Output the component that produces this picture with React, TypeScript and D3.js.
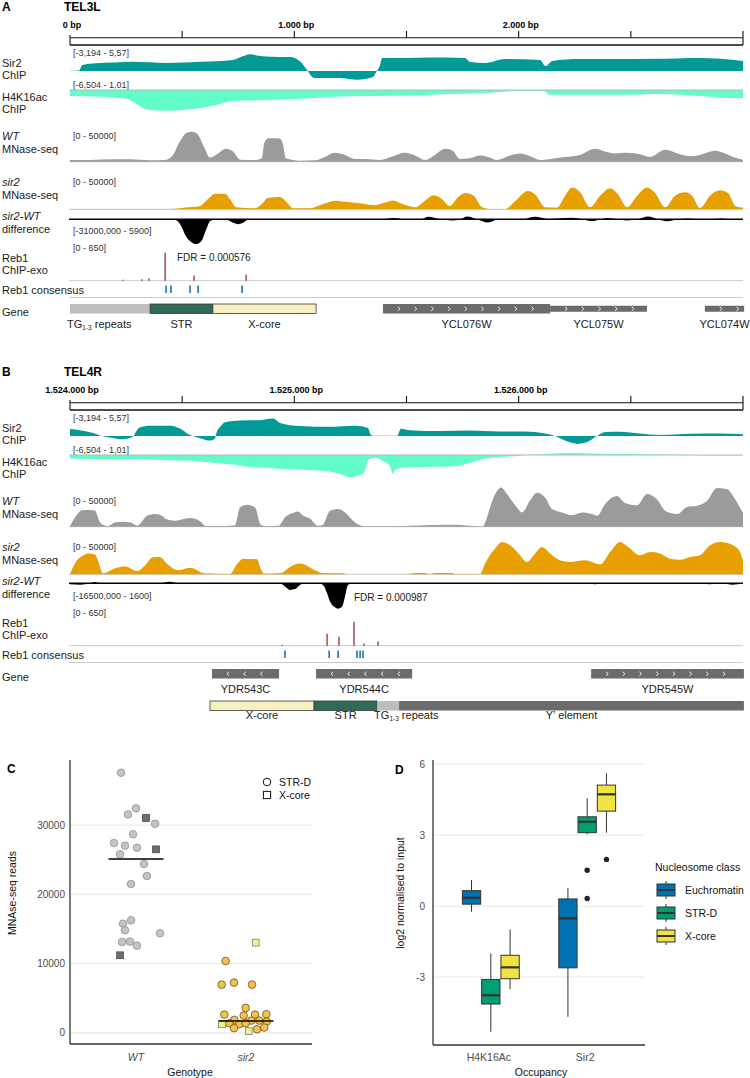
import React from "react";
import * as d3 from "d3";

type P = [number, number];
const FONT = "'Liberation Sans', Arial, Helvetica, sans-serif";

// ---------------- Panel A: TEL3L (bp offset from 0) ----------------
const A_SIR2: P[] = [[0,0.1],[40,0.2],[55,2.0],[100,2.5],[200,2.8],[280,3.0],[430,2.6],[580,3.0],[727,3.6],[770,4.8],[802,5.5],[847,4.9],[900,4.7],[980,4.6],[1025,3.2],[1045,1.5],[1060,0],[1080,-2.0],[1092,-2.3],[1204,-2.3],[1280,-2.9],[1350,-2.0],[1365,-0.3],[1380,1.5],[1392,4.3],[1500,4.3],[1600,4.4],[1760,4.3],[1783,3.0],[1850,2.6],[1940,3.9],[2095,3.6],[2120,1.6],[2150,3.3],[2273,3.9],[2450,3.9],[2600,4.0],[2810,4.3],[2900,4.0],[3000,3.3]];
const A_H4: P[] = [[0,-1.5],[134,-1.7],[250,-2.2],[300,-3.6],[330,-4.6],[357,-5.0],[432,-5.2],[504,-5.0],[580,-4.5],[655,-3.7],[727,-2.7],[878,-2.5],[1025,-2.2],[1172,-1.7],[1324,-1.5],[1560,-1.3],[1694,-1.0],[1872,-0.7],[2006,-0.2],[2118,-0.3],[2135,-1.2],[2274,-1.2],[2452,-1.2],[2630,-1.0],[2808,-1.5],[2942,-2.0],[3000,-2.0]];
const A_WT: P[] = [[0,2500],[89,2500],[200,3500],[267,3500],[357,2000],[423,2500],[455,8000],[490,30000],[517,42000],[544,44000],[570,40000],[597,22000],[624,6000],[655,11000],[696,19000],[727,15000],[758,3000],[830,2500],[855,5000],[866,28000],[885,34500],[935,34000],[950,25000],[962,5000],[1025,1500],[1092,2000],[1137,7000],[1181,13000],[1226,10000],[1270,4000],[1315,4000],[1382,2500],[1440,8000],[1493,13000],[1538,9000],[1583,2500],[1627,10000],[1672,19000],[1703,17000],[1739,4000],[1783,5000],[1828,9000],[1863,7000],[1904,2500],[1962,9000],[2006,12000],[2051,8000],[2095,2500],[2149,4500],[2207,7000],[2274,10000],[2340,19000],[2385,15000],[2430,12000],[2474,13000],[2541,11000],[2586,7000],[2653,17500],[2719,11000],[2764,8000],[2808,10000],[2875,16000],[2920,12000],[2964,6000],[3000,3000]];
const A_SIR2MN: P[] = [[0,300],[401,300],[468,800],[513,2500],[580,5000],[615,15000],[646,23000],[691,23000],[713,15000],[740,3000],[825,1500],[856,8000],[883,17000],[936,18000],[967,10000],[994,1500],[1070,1500],[1123,7000],[1181,12500],[1226,11000],[1293,9000],[1360,6000],[1400,9500],[1440,13000],[1480,8000],[1538,3000],[1580,12000],[1620,20500],[1650,17000],[1694,5000],[1730,18000],[1765,24000],[1800,20000],[1837,3000],[1881,300],[1939,300],[1984,12000],[2042,27000],[2073,22000],[2118,3000],[2171,2500],[2207,20000],[2238,32000],[2274,25000],[2318,3000],[2363,20000],[2408,31000],[2443,22000],[2483,3000],[2528,20000],[2572,32000],[2608,24000],[2653,3000],[2697,20000],[2742,25000],[2773,20000],[2808,2000],[2853,20000],[2898,28000],[2933,24000],[2969,4000],[3000,2500]];
const A_DIFF: P[] = [[0,0],[400,0],[470,-1000],[495,-8000],[515,-20000],[540,-28000],[560,-30500],[585,-27000],[605,-14000],[625,-2000],[650,0],[700,-500],[725,-4000],[750,-6000],[775,-3500],[800,0],[850,-800],[900,0],[1400,0],[1440,1500],[1490,0],[1538,-1000],[1570,0],[1596,3000],[1650,0],[1703,-1500],[1740,0],[1770,3500],[1815,0],[1863,-4000],[1910,0],[1970,-500],[2020,0],[2073,3000],[2130,500],[2238,2000],[2285,0],[2327,-2500],[2365,0],[2398,1500],[2440,0],[2483,-1500],[2530,0],[2577,3500],[2620,0],[2661,-2500],[2710,0],[2755,1000],[2790,0],[2822,-500],[2860,0],[2906,1000],[2950,0],[3000,0]];
const A_REB1: P[] = [[236,20],[321,30],[352,50],[424,607],[553,110],[785,130]];
const A_CONS: number[] = [428,450,535,571,767];
const A_GENES = [
  { name: "YCL076W", s: 1395, e: 2140, strand: 1, thick: true },
  { name: "YCL075W", s: 2140, e: 2572, strand: 1, thick: false },
  { name: "YCL074W", s: 2830, e: 3005, strand: 1, thick: false },
];
const A_FEATS = [
  { name: "TG", s: 0, e: 357 },
  { name: "STR", s: 357, e: 637 },
  { name: "X-core", s: 637, e: 1097 },
];

// ---------------- Panel B: TEL4R (bp offset from 1.524.000) ----------------
const B_SIR2: P[] = [[0,2.3],[45,1.9],[103,1.0],[134,0.2],[178,-0.5],[236,-1.1],[281,-0.2],[295,1.5],[310,2.8],[357,3.4],[446,3.4],[490,2.5],[535,0.3],[580,-0.7],[624,-1.5],[646,-0.8],[655,1.5],[670,3.0],[691,4.5],[758,5.1],[847,5.2],[905,5.7],[936,4.3],[1025,3.3],[1159,3.0],[1270,3.4],[1328,2.6],[1340,0.5],[1350,0.1],[1460,0.1],[1468,1.5],[1475,2.4],[1516,1.9],[1649,1.6],[1783,1.8],[1917,1.5],[2028,1.5],[2118,0.8],[2162,0],[2207,-1.5],[2265,-2.6],[2318,-1.5],[2349,0],[2385,1.3],[2452,1.4],[2541,0.8],[2630,0.3],[2764,0.7],[2898,0.8],[3000,0.6]];
const B_H4: P[] = [[0,-0.9],[100,-1.0],[300,-1.0],[400,-1.2],[500,-1.4],[580,-1.6],[650,-2.0],[727,-2.4],[800,-3.0],[878,-3.2],[950,-3.5],[1025,-3.6],[1100,-3.9],[1172,-4.3],[1220,-5.0],[1250,-5.7],[1280,-5.2],[1310,-4.5],[1330,-1.2],[1360,-0.7],[1395,-1.5],[1425,-2.6],[1438,-4.6],[1452,-3.6],[1480,-3.2],[1560,-3.0],[1694,-2.9],[1783,-2.0],[1828,-1.2],[1917,-0.5],[2006,-0.2],[2050,0.1],[2118,0.25],[2250,0.5],[2385,0.25],[2630,0.2],[2760,0.05],[2830,-0.15],[2960,-0.15],[3000,0]];
const B_WT: P[] = [[0,1000],[22,13600],[58,24500],[111,24000],[134,6300],[169,800],[200,6000],[236,7300],[270,6000],[300,1500],[312,4000],[343,16000],[380,18600],[415,15000],[424,11700],[468,8800],[535,12700],[580,8000],[605,1000],[690,1000],[735,2000],[758,28300],[790,32300],[825,28300],[850,3000],[870,800],[930,1500],[958,13600],[1000,21000],[1016,22500],[1040,16000],[1070,11700],[1105,1500],[1125,2000],[1159,23500],[1195,26000],[1226,21000],[1270,6300],[1315,800],[1460,800],[1520,1500],[1694,3000],[1783,1500],[1840,300],[1855,10000],[1872,28000],[1904,53000],[1922,57800],[1948,48000],[1993,28000],[2015,21000],[2050,38000],[2082,50000],[2118,43000],[2149,26000],[2193,21000],[2238,17000],[2283,21000],[2327,18600],[2350,16000],[2385,33000],[2438,45000],[2474,35000],[2528,31500],[2572,48000],[2617,40000],[2653,23500],[2706,18600],[2751,29000],[2795,30800],[2840,38000],[2884,56800],[2929,55000],[2960,43000],[2987,28000],[3000,20000]];
const B_SIR2MN: P[] = [[0,500],[22,16000],[60,28000],[85,30500],[111,29000],[125,20000],[147,1500],[200,8400],[245,11700],[299,4800],[334,13000],[370,25000],[400,25500],[432,15700],[481,5800],[535,9800],[602,1500],[713,500],[745,15000],[771,23000],[834,22000],[850,8000],[865,800],[940,2000],[981,10800],[1025,15700],[1092,5800],[1123,2000],[1217,1500],[1235,200],[1500,200],[1538,2000],[1583,2000],[1600,300],[1627,2000],[1703,2000],[1720,300],[1828,300],[1850,15700],[1895,37800],[1926,47500],[1962,42600],[2006,28000],[2037,18000],[2073,30500],[2104,40000],[2140,30500],[2184,20500],[2229,18000],[2296,20500],[2363,14600],[2408,32700],[2452,47500],[2488,40000],[2541,28000],[2586,32700],[2630,30500],[2675,23000],[2719,21500],[2764,25500],[2808,28000],[2853,42600],[2898,47500],[2956,42600],[2987,32700],[3000,20500]];
const B_DIFF: P[] = [[0,-600],[45,-800],[90,0],[110,800],[140,0],[400,0],[446,900],[480,0],[936,0],[958,-2000],[981,-4000],[1003,-3500],[1025,-1000],[1048,0],[1110,0],[1128,-1000],[1146,-6000],[1159,-11000],[1181,-14500],[1195,-15300],[1213,-14000],[1226,-8000],[1239,-1000],[1257,0],[1700,0],[1750,-400],[1800,0],[2300,0],[2340,-500],[2380,0],[2800,0],[2850,-600],[2900,0],[2950,-800],[3000,0]];
const B_REB1: P[] = [[945,20],[1146,260],[1199,195],[1266,520],[1311,45],[1373,90]];
const B_CONS: number[] = [958,1155,1195,1279,1293,1306];
const B_GENES = [
  { name: "YDR543C", s: 633, e: 932, strand: -1, thick: true },
  { name: "YDR544C", s: 1097, e: 1525, strand: -1, thick: true },
  { name: "YDR545W", s: 2323, e: 3004, strand: 1, thick: true },
];
const B_FEATS = [
  { name: "X-core", s: 624, e: 1088 },
  { name: "STR", s: 1088, e: 1369 },
  { name: "TG", s: 1369, e: 1467 },
  { name: "Y' element", s: 1467, e: 3004 },
];

const RULER_TICKS = [0, 500, 1000, 1500, 2000, 2500, 3000];
const RULER_LABELS = [0, 1000, 2000];

// ---------------- Panel C ----------------
const C_GENOTYPES = ["WT", "sir2"];
const C_WT_STR = [37560,31550,32420,30200,28670,27420,27030,26740,25790,24390,22660,21500,15770,16260,14820,14390,13130,13180,12600];
const C_WT_STR_JIT = [-0.136,-0.073,0,0.173,-0.027,-0.2,-0.1,0.009,-0.145,0.073,0.1,-0.045,-0.118,-0.045,-0.1,0.218,-0.127,-0.055,0.009];
const C_WT_X = [31030,26500,11210];
const C_WT_X_JIT = [0.091,0.182,-0.145];
const C_S2_STR = [10390,6970,7260,6970,3610,2650,2500,2650,2700,1880,1780,1780,1630,1400,1250,1400,680,530,770];
const C_S2_STR_JIT = [-0.185,-0.221,-0.109,0.055,-0.003,-0.197,-0.021,0.082,0.185,-0.106,0.048,0.121,0.188,-0.152,-0.061,-0.003,-0.109,0.1,0.166];
const C_S2_X = [13030,1250,250];
const C_S2_X_JIT = [0.088,-0.218,0.025];
const C_MEDIANS = [25100, 1730];
const C_YTICKS = [0, 10000, 20000, 30000];

// ---------------- Panel D ----------------
const D_GROUPS = ["H4K16Ac", "Sir2"];
const D_CLASSES = ["Euchromatin", "STR-D", "X-core"];
const D_LO = [[-0.24,-5.31,-3.51],[-4.68,3.03,3.10]];
const D_Q1 = [[0.08,-4.14,-3.07],[-2.61,3.10,4.01]];
const D_MED = [[0.35,-3.77,-2.59],[-0.52,3.56,4.72]];
const D_Q3 = [[0.65,-3.10,-2.08],[0.30,3.77,5.11]];
const D_HI = [[1.10,-2.0,-0.99],[0.77,4.55,5.61]];
const D_OUT = [[[],[],[]],[[],[1.51,0.32],[1.97]]];
const D_YTICKS = [-3, 0, 3, 6];

const CLASS_COL = ["#0072B2", "#009E73", "#F0E442"];
const FEAT_COL: Record<string, string> = { TG: "#bdbdbd", STR: "#2d6b56", "X-core": "#f7efbf", "Y' element": "#6b6b6b" };

const locale = d3.formatLocale({ decimal: ",", thousands: ".", grouping: [3], currency: ["", ""] });
const fmtBp = locale.format(",d");

const xG = d3.scaleLinear().domain([0, 3000]).range([70, 743]);

function Area({ data, zero, k, color }: { data: P[]; zero: number; k: number; color: string }) {
  const y = d3.scaleLinear().domain([0, 1]).range([zero, zero - k]);
  const gen = d3.area<P>().x((d) => xG(d[0])).y0(y(0)).y1((d) => y(d[1])).curve(d3.curveMonotoneX);
  return <path d={gen(data) || ""} fill={color} />;
}

function Chevrons({ x1, x2, cy, strand }: { x1: number; x2: number; cy: number; strand: number }) {
  const out: JSX.Element[] = [];
  for (let cx = x1 + 16; cx < x2 - 4; cx += 16.7) {
    const s = strand;
    out.push(
      <path key={cx} d={`M${cx - 1.1 * s},${cy - 2} L${cx + 1.1 * s},${cy} L${cx - 1.1 * s},${cy + 2}`} fill="none" stroke="#fff" strokeWidth={0.9} />
    );
  }
  return <g>{out}</g>;
}

function TGLabel({ x, y }: { x: number; y: number }) {
  return (
    <text x={x} y={y} fontSize={11} fill="#222">
      TG<tspan fontSize={6.5} dy={2}>1-3</tspan>
      <tspan dy={-2}> repeats</tspan>
    </text>
  );
}

type Cfg = {
  dy: number; letter: string; title: string; base: number;
  sir2: P[]; h4: P[]; wt: P[]; s2: P[]; diff: P[]; diffRange: string; diffK: number; diffZero: number;
  reb1: P[]; cons: number[]; fdr: string; fdrX: number; fdrY: number;
  genes: typeof A_GENES; feats: typeof A_FEATS; featsOwnRow: boolean;
};

function GenomePanel({ c }: { c: Cfg }) {
  const d = c.dy;
  const lab = (t: string, y: number, italic = false) => (
    <text x={2} y={d + y + 4} fontSize={11} fontStyle={italic ? "italic" : "normal"} fill="#1a1a1a">{t}</text>
  );
  const rng = (t: string, y: number) => (
    <text x={73} y={d + y + 3.3} fontSize={9} fill="#333">{t}</text>
  );
  const mnK = 34 / 50000;
  const reb1K = 30 / 650;
  const geneY = d + 304;
  const featY = c.featsOwnRow ? d + 336 : geneY;
  const featLabY = c.featsOwnRow ? d + 354 : d + 327.5;
  return (
    <g>
      <text x={2} y={d + 10.5} fontSize={12} fontWeight="bold">{c.letter}</text>
      <text x={64} y={d + 10.5} fontSize={12} fontWeight="bold">{c.title}</text>
      {/* ruler */}
      {RULER_LABELS.map((t) => (
        <text key={t} x={xG(t) + 2} y={d + 28} fontSize={9} fontWeight="bold" textAnchor="middle">{fmtBp(c.base + t) + " bp"}</text>
      ))}
      <line x1={70} x2={743} y1={d + 37.8} y2={d + 37.8} stroke="#111" strokeWidth={1.1} />
      <line x1={70} x2={743} y1={d + 45} y2={d + 45} stroke="#111" strokeWidth={1.4} />
      {RULER_TICKS.map((t, i) => (
        <line key={t} x1={xG(t)} x2={xG(t)} y1={d + (i === 0 ? 35 : 31)} y2={d + (i === 0 || i === RULER_TICKS.length - 1 ? 45 : 37.8)} stroke="#111" strokeWidth={1.1} />
      ))}
      {/* label column */}
      {lab("Sir2", 63)}{lab("ChIP", 75)}
      {lab("H4K16ac", 97)}{lab("ChIP", 109)}
      {lab("WT", 136, true)}{lab("MNase-seq", 149)}
      {lab("sir2", 182, true)}{lab("MNase-seq", 194.5)}
      {lab("sir2-WT", 216, true)}{lab("difference", 229)}
      {lab("Reb1", 257.5)}{lab("ChIP-exo", 269.5)}
      {lab("Reb1 consensus", 290)}
      {lab("Gene", 312)}
      {rng("[-3,194 - 5,57]", 53)}
      {rng("[-6,504 - 1,01]", 85)}
      {rng("[0 - 50000]", 136)}
      {rng("[0 - 50000]", 182)}
      {rng(c.diffRange, 230.5)}
      {rng("[0 - 650]", 248)}
      {/* tracks */}
      <Area data={c.sir2} zero={d + 71} k={3.05} color="#009a97" />
      <Area data={c.h4} zero={d + 90} k={4} color="#62fccb" />
      <line x1={69} x2={743} y1={d + 90} y2={d + 90} stroke="#b8b8b8" strokeWidth={1} />
      <line x1={69} x2={743} y1={d + 161.7} y2={d + 161.7} stroke="#c8c8c8" strokeWidth={1} />
      <Area data={c.wt} zero={d + 161.7} k={mnK} color="#9b9b9b" />
      <line x1={69} x2={743} y1={d + 209.3} y2={d + 209.3} stroke="#c8c8c8" strokeWidth={1} />
      <Area data={c.s2} zero={d + 209.3} k={mnK} color="#e8a000" />
      <Area data={c.diff} zero={c.diffZero} k={c.diffK} color="#000" />
      <line x1={69} x2={743} y1={c.diffZero} y2={c.diffZero} stroke="#000" strokeWidth={1.6} />
      <line x1={69} x2={743} y1={d + 280.7} y2={d + 280.7} stroke="#c9c9cf" strokeWidth={1} />
      {c.reb1.map((b, i) => (
        <line key={i} x1={xG(b[0])} x2={xG(b[0])} y1={d + 280.7} y2={d + 280.7 - b[1] * reb1K} stroke="#8b1a3c" strokeWidth={1.2} />
      ))}
      <text x={c.fdrX} y={c.fdrY + 3.6} fontSize={10} fill="#222">{c.fdr}</text>
      {c.cons.map((p, i) => (
        <rect key={i} x={xG(p) - 0.8} y={d + 285.5} width={1.7} height={7.5} fill="#2a7bbd" />
      ))}
      <line x1={69} x2={743} y1={d + 297.5} y2={d + 297.5} stroke="#c9c9cf" strokeWidth={1} />
      {/* genes */}
      {c.genes.map((g) => {
        const x1 = xG(g.s), x2 = xG(g.e);
        const h = g.thick ? 9.5 : 6;
        const y = geneY + (9.5 - h) / 2;
        const w = g.name.length * 6.7;
        const cx = Math.min((x1 + x2) / 2, 749 - w / 2);
        return (
          <g key={g.name}>
            <rect x={x1} y={y} width={x2 - x1} height={h} fill="#6b6b6b" />
            <Chevrons x1={x1} x2={x2} cy={geneY + 4.75} strand={g.strand} />
            <text x={cx} y={geneY + 24} fontSize={11} textAnchor="middle" fill="#222">{g.name}</text>
          </g>
        );
      })}
      {c.feats.map((f) => {
        const x1 = xG(f.s), x2 = xG(f.e);
        const outlined = f.name === "STR" || f.name === "X-core";
        return (
          <g key={f.name}>
            <rect x={x1} y={featY} width={x2 - x1} height={9.5} fill={FEAT_COL[f.name]} stroke={outlined ? "#3a3a3a" : "none"} strokeWidth={0.8} />
            {f.name === "TG" ? (
              <TGLabel x={x1 - 3} y={featLabY} />
            ) : (
              <text x={(x1 + x2) / 2} y={featLabY} fontSize={11} textAnchor="middle" fill="#222">{f.name === "Y' element" ? "Y\u2019 element" : f.name}</text>
            )}
          </g>
        );
      })}
    </g>
  );
}

const PANEL_A: Cfg = {
  dy: 0, letter: "A", title: "TEL3L", base: 0,
  sir2: A_SIR2, h4: A_H4, wt: A_WT, s2: A_SIR2MN, diff: A_DIFF, diffRange: "[-31000,000 - 5900]", diffK: 30 / 36900, diffZero: 219.3,
  reb1: A_REB1, cons: A_CONS, fdr: "FDR = 0.000576", fdrX: 177, fdrY: 257.5,
  genes: A_GENES, feats: A_FEATS, featsOwnRow: false,
};
const PANEL_B: Cfg = {
  dy: 365, letter: "B", title: "TEL4R", base: 1524000,
  sir2: B_SIR2, h4: B_H4, wt: B_WT, s2: B_SIR2MN, diff: B_DIFF, diffRange: "[-16500,000 - 1600]", diffK: 30 / 18100, diffZero: 583.3,
  reb1: B_REB1, cons: B_CONS, fdr: "FDR = 0.000987", fdrX: 354, fdrY: 597.5,
  genes: B_GENES, feats: B_FEATS, featsOwnRow: true,
};

function PanelC() {
  const x = d3.scaleLinear().domain([0.4, 2.6]).range([70, 312]);
  const y = d3.scaleLinear().domain([-1600, 39400]).range([1044, 760]);
  const r = 3.8;
  const sq = 6.8;
  const circles = (vals: number[], jit: number[], g: number, fill: string, stroke: string) =>
    vals.map((v, i) => <circle key={`c${g}${i}`} cx={x(g + jit[i])} cy={y(v)} r={r} fill={fill} stroke={stroke} strokeWidth={0.8} />);
  const squares = (vals: number[], jit: number[], g: number, fill: string, stroke: string) =>
    vals.map((v, i) => <rect key={`s${g}${i}`} x={x(g + jit[i]) - sq / 2} y={y(v) - sq / 2} width={sq} height={sq} fill={fill} stroke={stroke} strokeWidth={0.8} />);
  return (
    <g>
      <text x={7} y={773} fontSize={12} fontWeight="bold">C</text>
      {C_YTICKS.map((t) => (
        <g key={t}>
          <line x1={70} x2={312} y1={y(t)} y2={y(t)} stroke="#e6e6e6" strokeWidth={1} />
          <text x={65} y={y(t) + 3.5} fontSize={10} textAnchor="end" fill="#4d4d4d">{t}</text>
        </g>
      ))}
      {circles(C_WT_STR, C_WT_STR_JIT, 1, "#c4c4c4", "#8f8f8f")}
      {squares(C_WT_X, C_WT_X_JIT, 1, "#6f6f6f", "#4a4a4a")}
      {circles(C_S2_STR, C_S2_STR_JIT, 2, "#f4c14f", "#6b5218")}
      {squares(C_S2_X, C_S2_X_JIT, 2, "#f6ef8e", "#7a7a7a")}
      {C_MEDIANS.map((m, i) => (
        <line key={i} x1={x(i + 1 - 0.25)} x2={x(i + 1 + 0.25)} y1={y(m)} y2={y(m)} stroke="#000" strokeWidth={1.6} />
      ))}
      <line x1={70} x2={70} y1={760} y2={1044} stroke="#333" strokeWidth={1.3} />
      <line x1={70} x2={312} y1={1044} y2={1044} stroke="#333" strokeWidth={1.3} />
      {C_GENOTYPES.map((g, i) => (
        <text key={g} x={x(i + 1)} y={1060.5} fontSize={10.5} fontStyle="italic" textAnchor="middle" fill="#4d4d4d">{g}</text>
      ))}
      <text x={190} y={1075.5} fontSize={10.5} textAnchor="middle" fill="#111">Genotype</text>
      <text transform="translate(16,893) rotate(-90)" fontSize={10.5} textAnchor="middle" fill="#111">MNAse-seq reads</text>
      <circle cx={267} cy={782} r={3.8} fill="none" stroke="#111" strokeWidth={1} />
      <text x={279} y={785.8} fontSize={10.5} fill="#111">STR-D</text>
      <rect x={263.4} y={791.4} width={7.2} height={7.2} fill="none" stroke="#111" strokeWidth={1} />
      <text x={279} y={798.8} fontSize={10.5} fill="#111">X-core</text>
    </g>
  );
}

function PanelD() {
  const x = d3.scaleLinear().domain([0.4, 2.6]).range([433, 645]);
  const y = d3.scaleLinear().domain([-5.87, 6.17]).range([1045, 760]);
  const bw = x(1.19) - x(1);
  const boxes: JSX.Element[] = [];
  D_GROUPS.forEach((g, gi) => {
    D_CLASSES.forEach((cl, ci) => {
      const cx = x(gi + 1 + (ci - 1) * 0.2);
      boxes.push(
        <g key={`${g}-${cl}`}>
          <line x1={cx} x2={cx} y1={y(D_HI[gi][ci])} y2={y(D_Q3[gi][ci])} stroke="#333" strokeWidth={1} />
          <line x1={cx} x2={cx} y1={y(D_Q1[gi][ci])} y2={y(D_LO[gi][ci])} stroke="#333" strokeWidth={1} />
          <rect x={cx - bw / 2} y={y(D_Q3[gi][ci])} width={bw} height={y(D_Q1[gi][ci]) - y(D_Q3[gi][ci])} fill={CLASS_COL[ci]} stroke="#333" strokeWidth={1} />
          <line x1={cx - bw / 2} x2={cx + bw / 2} y1={y(D_MED[gi][ci])} y2={y(D_MED[gi][ci])} stroke="#333" strokeWidth={2.2} />
          {D_OUT[gi][ci].map((o, k) => (
            <circle key={k} cx={cx} cy={y(o)} r={2.7} fill="#222" />
          ))}
        </g>
      );
    });
  });
  return (
    <g>
      <text x={395} y={773.5} fontSize={12} fontWeight="bold">D</text>
      {D_YTICKS.map((t) => (
        <g key={t}>
          <line x1={433} x2={645} y1={y(t)} y2={y(t)} stroke="#e6e6e6" strokeWidth={1} />
          <text x={425} y={y(t) + 3.5} fontSize={10} textAnchor="end" fill="#4d4d4d">{t}</text>
        </g>
      ))}
      {boxes}
      <line x1={433} x2={433} y1={760} y2={1045} stroke="#333" strokeWidth={1.3} />
      <line x1={433} x2={645} y1={1045} y2={1045} stroke="#333" strokeWidth={1.3} />
      {D_GROUPS.map((g, i) => (
        <text key={g} x={x(i + 1) - 2} y={1060.5} fontSize={10.5} textAnchor="middle" fill="#4d4d4d">{g}</text>
      ))}
      <text x={541} y={1075.5} fontSize={10.5} textAnchor="middle" fill="#111">Occupancy</text>
      <text transform="translate(404,893) rotate(-90)" fontSize={10.5} textAnchor="middle" fill="#111">log2 normalised to input</text>
      <text x={655} y={870.5} fontSize={10.5} fill="#111">Nucleosome class</text>
      {D_CLASSES.map((cl, i) => {
        const cy = 890 + i * 23;
        return (
          <g key={cl}>
            <line x1={666} x2={666} y1={cy - 9} y2={cy + 9} stroke="#333" strokeWidth={1} />
            <rect x={657} y={cy - 6} width={18} height={12} fill={CLASS_COL[i]} stroke="#333" strokeWidth={1} />
            <line x1={657} x2={675} y1={cy} y2={cy} stroke="#333" strokeWidth={2} />
            <text x={685} y={cy + 3.8} fontSize={10.5} fill="#111">{cl}</text>
          </g>
        );
      })}
    </g>
  );
}

export default function App() {
  return (
    <svg width={750} height={1078} viewBox="0 0 750 1078" style={{ position: "absolute", left: 0, top: 0, background: "#fff" }} fontFamily={FONT}>
      <rect width={750} height={1078} fill="#fff" />
      <GenomePanel c={PANEL_A} />
      <GenomePanel c={PANEL_B} />
      <PanelC />
      <PanelD />
    </svg>
  );
}
